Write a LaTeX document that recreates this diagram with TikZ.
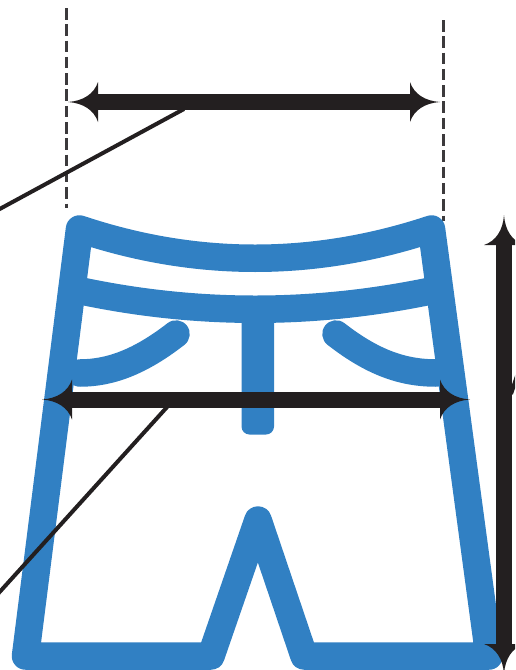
\documentclass[tikz,border=0pt]{standalone}
\begin{document}
\begin{tikzpicture}[
  x=0.02cm, y=-0.02cm,
  garment/.style={draw=shortblue, line width=0.55cm, line join=round, line cap=round},
  dimbar/.style={draw=inkblack, line width=0.32cm},
  leader/.style={draw=inkblack, line width=0.08cm},
  guide/.style={draw=guidegray, line width=0.05cm, dash pattern=on 0.23cm off 0.096cm},
  dimtip/.pic={
    \fill[inkblack] (0,0) .. controls (-15,-1) and (-26,-8) .. (-30,-20)
      -- (-30,20) .. controls (-26,8) and (-15,1) .. (0,0) -- cycle;
  },
]

\definecolor{shortblue}{RGB}{49,128,195}
\definecolor{inkblack}{RGB}{35,31,32}
\definecolor{guidegray}{RGB}{60,58,60}

\clip (0,0) rectangle (515,670);

% ============================================================
% GUIDES
% ============================================================
\draw[guide] (66.5,8) -- (66.5,208);
\draw[guide] (443.5,20) -- (443.5,221);

% ============================================================
% SHORTS
% ============================================================
% outline, corners in pixel coordinates of the sheet
\draw[garment]
  (79.5,229) .. controls (196,268) and (314,268) .. (431.5,229)
  -- (489,656) -- (304,656) -- (258,520) -- (211,656) -- (25.5,656) -- cycle;

% waistband lower edge
\draw[garment, line cap=butt]
  (72,289) .. controls (194,316) and (316,316) .. (440,289);

% pockets
\draw[garment] (176,334) .. controls (140,362) and (110,373) .. (80,373);
\draw[garment] (336,334) .. controls (372,362) and (402,373) .. (436,373);

% fly
\fill[shortblue, rounded corners=8*0.02cm] (241.5,310) rectangle (274,434.5);

% ============================================================
% DIMENSIONS
% ============================================================
\coordinate (waistL) at (68,102);
\coordinate (waistR) at (440,102);
\coordinate (hipL) at (42,399.5);
\coordinate (hipR) at (470,399.5);
\coordinate (lenT) at (504,215);
\coordinate (lenB) at (504,674);

\draw[dimbar] ([xshift=25*0.02cm]waistL) -- ([xshift=-25*0.02cm]waistR);
\draw[dimbar] ([xshift=25*0.02cm]hipL) -- ([xshift=-25*0.02cm]hipR);
\draw[dimbar] ([yshift=-25*0.02cm]lenT) -- ([yshift=25*0.02cm]lenB);

\pic[rotate=180] at (waistL) {dimtip};
\pic at (waistR) {dimtip};
\pic[rotate=180] at (hipL) {dimtip};
\pic at (hipR) {dimtip};
\pic[rotate=90] at (lenT) {dimtip};
\pic[rotate=-90] at (lenB) {dimtip};

% ============================================================
% LEADERS
% ============================================================
\coordinate (waistOut) at (-4,211);
\coordinate (waistFoot) at (184,109);
\coordinate (hipOut) at (-4,596);
\coordinate (hipFoot) at (168,406);
\coordinate (lenOut) at (519,370);
\coordinate (lenFoot) at (511,394);

\draw[leader] (waistOut) -- (waistFoot);
\draw[leader] (hipOut) -- (hipFoot);
\draw[leader] (lenOut) -- (lenFoot);

\end{tikzpicture}
\end{document}
